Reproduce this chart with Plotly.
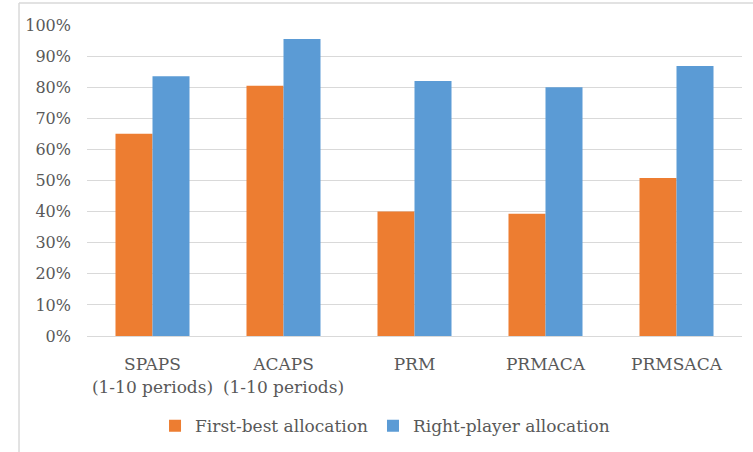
import plotly.graph_objects as go

categories = ["SPAPS<br>(1-10 periods)", "ACAPS<br>(1-10 periods)", "PRM", "PRMACA", "PRMSACA"]
first_best = [0.65, 0.805, 0.40, 0.393, 0.508]
right_player = [0.835, 0.955, 0.82, 0.80, 0.868]
tick_vals = [i / 10 for i in range(11)]
tick_text = [f"{i * 10}%" for i in range(11)]

FONT = "DejaVu Serif"
GREY = "#595959"

fig = go.Figure()
fig.add_trace(go.Bar(name="First-best allocation", x=categories, y=first_best,
                     marker=dict(color="#ED7D31", line=dict(width=0))))
fig.add_trace(go.Bar(name="Right-player allocation", x=categories, y=right_player,
                     marker=dict(color="#5B9BD5", line=dict(width=0))))

fig.update_layout(
    width=753, height=452,
    margin=dict(l=87, r=11, t=25, b=116),
    paper_bgcolor="white", plot_bgcolor="white",
    barmode="group", bargap=0.435, bargroupgap=0,
    font=dict(family=FONT, size=17, color=GREY),
    showlegend=True,
    legend=dict(orientation="h", x=0.455, xanchor="center",
                yref="container", y=0.057, yanchor="middle",
                font=dict(family=FONT, size=17, color=GREY), itemwidth=30,
                traceorder="normal"),
    xaxis=dict(showgrid=False, showline=True, linecolor="#D9D9D9", linewidth=1,
               ticks="", tickfont=dict(family=FONT, size=17, color=GREY),
               ticklabelstandoff=13, automargin=False),
    yaxis=dict(range=[0, 1], tickvals=tick_vals, ticktext=tick_text,
               showgrid=True, gridcolor="#D9D9D9", gridwidth=1, zeroline=False,
               showline=False, ticks="", tickfont=dict(family=FONT, size=16, color=GREY),
               ticklabelstandoff=15, automargin=False),
    shapes=[
        # chart frame (left and top edges visible)
        dict(type="line", xref="paper", yref="paper", x0=-0.1038, x1=1.02,
             y0=1.0707, y1=1.0707, line=dict(color="#D9D9D9", width=1.5)),
        dict(type="line", xref="paper", yref="paper", x0=-0.1038, x1=-0.1038,
             y0=1.0707, y1=-0.40, line=dict(color="#D9D9D9", width=1.5)),
    ],
)

fig.write_html("out.html")
